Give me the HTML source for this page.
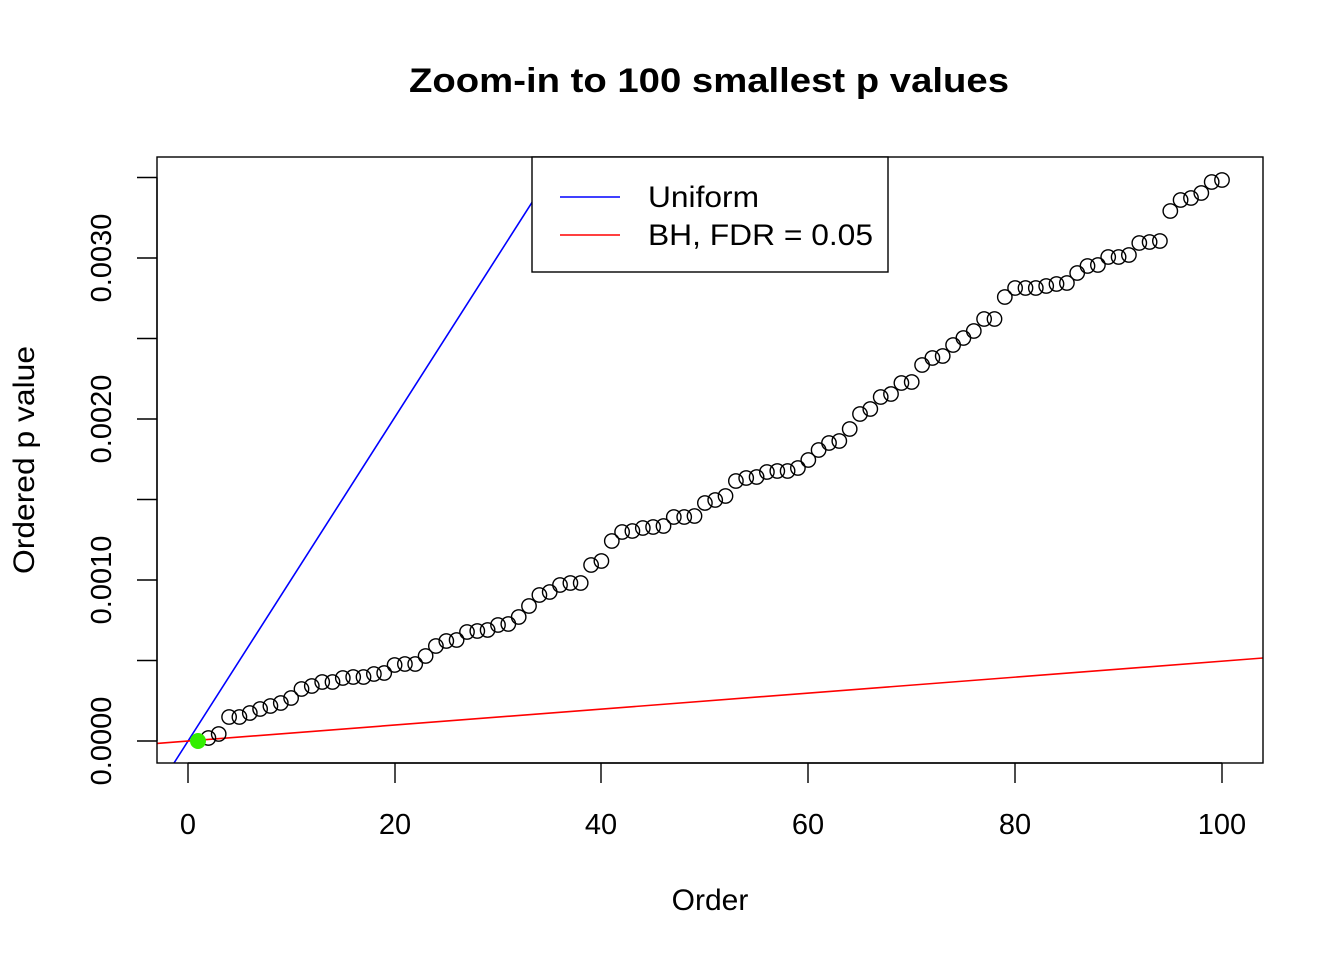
<!DOCTYPE html>
<html><head><meta charset="utf-8"><style>html,body{margin:0;padding:0;background:#fff}svg{display:block}</style></head>
<body>
<svg width="1344" height="960" xmlns="http://www.w3.org/2000/svg" font-family="Liberation Sans, Arial, sans-serif">
<rect width="1344" height="960" fill="#fff"/>
<defs><clipPath id="c"><rect x="157" y="157" width="1106" height="606"/></clipPath></defs>
<g clip-path="url(#c)">
<line x1="174" y1="763" x2="561" y2="157" stroke="#0000ff" stroke-width="1.6"/>
<line x1="157" y1="743.4" x2="1263" y2="658" stroke="#ff0000" stroke-width="1.6"/>
</g>
<g fill="none" stroke="#000" stroke-width="1.4">
<circle cx="208.4" cy="738" r="7.2"/><circle cx="218.7" cy="734" r="7.2"/><circle cx="229.1" cy="717" r="7.2"/><circle cx="239.4" cy="717" r="7.2"/><circle cx="249.8" cy="713" r="7.2"/><circle cx="260.1" cy="709" r="7.2"/><circle cx="270.4" cy="706" r="7.2"/><circle cx="280.8" cy="703" r="7.2"/><circle cx="291.1" cy="698" r="7.2"/><circle cx="301.5" cy="689" r="7.2"/>
<circle cx="311.8" cy="686" r="7.2"/><circle cx="322.2" cy="682" r="7.2"/><circle cx="332.5" cy="682" r="7.2"/><circle cx="342.8" cy="678" r="7.2"/><circle cx="353.2" cy="677" r="7.2"/><circle cx="363.5" cy="677" r="7.2"/><circle cx="373.9" cy="674" r="7.2"/><circle cx="384.2" cy="673" r="7.2"/><circle cx="394.6" cy="665" r="7.2"/><circle cx="404.9" cy="664" r="7.2"/>
<circle cx="415.2" cy="664" r="7.2"/><circle cx="425.6" cy="656" r="7.2"/><circle cx="435.9" cy="646" r="7.2"/><circle cx="446.3" cy="641" r="7.2"/><circle cx="456.6" cy="640" r="7.2"/><circle cx="467.0" cy="632" r="7.2"/><circle cx="477.3" cy="631" r="7.2"/><circle cx="487.6" cy="630" r="7.2"/><circle cx="498.0" cy="625" r="7.2"/><circle cx="508.3" cy="624" r="7.2"/>
<circle cx="518.7" cy="617" r="7.2"/><circle cx="529.0" cy="606" r="7.2"/><circle cx="539.4" cy="595" r="7.2"/><circle cx="549.7" cy="592" r="7.2"/><circle cx="560.0" cy="585" r="7.2"/><circle cx="570.4" cy="583" r="7.2"/><circle cx="580.7" cy="583" r="7.2"/><circle cx="591.1" cy="565" r="7.2"/><circle cx="601.4" cy="561" r="7.2"/><circle cx="611.8" cy="541" r="7.2"/>
<circle cx="622.1" cy="532" r="7.2"/><circle cx="632.4" cy="531" r="7.2"/><circle cx="642.8" cy="528" r="7.2"/><circle cx="653.1" cy="527" r="7.2"/><circle cx="663.5" cy="526" r="7.2"/><circle cx="673.8" cy="517" r="7.2"/><circle cx="684.2" cy="517" r="7.2"/><circle cx="694.5" cy="516" r="7.2"/><circle cx="704.9" cy="503" r="7.2"/><circle cx="715.2" cy="500" r="7.2"/>
<circle cx="725.5" cy="496" r="7.2"/><circle cx="735.9" cy="481" r="7.2"/><circle cx="746.2" cy="478" r="7.2"/><circle cx="756.6" cy="477" r="7.2"/><circle cx="766.9" cy="472" r="7.2"/><circle cx="777.3" cy="471" r="7.2"/><circle cx="787.6" cy="471" r="7.2"/><circle cx="797.9" cy="468" r="7.2"/><circle cx="808.3" cy="460" r="7.2"/><circle cx="818.6" cy="450" r="7.2"/>
<circle cx="829.0" cy="443" r="7.2"/><circle cx="839.3" cy="441" r="7.2"/><circle cx="849.7" cy="429" r="7.2"/><circle cx="860.0" cy="414" r="7.2"/><circle cx="870.3" cy="409" r="7.2"/><circle cx="880.7" cy="397" r="7.2"/><circle cx="891.0" cy="394" r="7.2"/><circle cx="901.4" cy="383" r="7.2"/><circle cx="911.7" cy="382" r="7.2"/><circle cx="922.1" cy="365" r="7.2"/>
<circle cx="932.4" cy="358" r="7.2"/><circle cx="942.7" cy="356" r="7.2"/><circle cx="953.1" cy="345" r="7.2"/><circle cx="963.4" cy="338" r="7.2"/><circle cx="973.8" cy="331" r="7.2"/><circle cx="984.1" cy="319" r="7.2"/><circle cx="994.5" cy="319" r="7.2"/><circle cx="1004.8" cy="297" r="7.2"/><circle cx="1015.1" cy="288" r="7.2"/><circle cx="1025.5" cy="288" r="7.2"/>
<circle cx="1035.8" cy="288" r="7.2"/><circle cx="1046.2" cy="286" r="7.2"/><circle cx="1056.5" cy="284" r="7.2"/><circle cx="1066.9" cy="283" r="7.2"/><circle cx="1077.2" cy="273" r="7.2"/><circle cx="1087.5" cy="266" r="7.2"/><circle cx="1097.9" cy="265" r="7.2"/><circle cx="1108.2" cy="257" r="7.2"/><circle cx="1118.6" cy="257" r="7.2"/><circle cx="1128.9" cy="255" r="7.2"/>
<circle cx="1139.3" cy="243" r="7.2"/><circle cx="1149.6" cy="242" r="7.2"/><circle cx="1159.9" cy="241" r="7.2"/><circle cx="1170.3" cy="211" r="7.2"/><circle cx="1180.6" cy="200" r="7.2"/><circle cx="1191.0" cy="198" r="7.2"/><circle cx="1201.3" cy="193" r="7.2"/><circle cx="1211.7" cy="182" r="7.2"/><circle cx="1222.0" cy="180" r="7.2"/>
</g>
<circle cx="198" cy="741" r="7.5" fill="#33ee00" stroke="#33ee00"/>
<rect x="157" y="157" width="1106" height="606" fill="none" stroke="#000" stroke-width="1.4"/>
<rect x="532" y="157" width="356" height="115" fill="#fff" stroke="#000" stroke-width="1.4"/>
<line x1="560" y1="197" x2="620" y2="197" stroke="#0000ff" stroke-width="1.6"/>
<line x1="560" y1="235" x2="620" y2="235" stroke="#ff0000" stroke-width="1.6"/>
<text x="648" y="207" font-size="30" textLength="111" lengthAdjust="spacingAndGlyphs">Uniform</text>
<text x="648" y="245" font-size="30" textLength="225" lengthAdjust="spacingAndGlyphs">BH, FDR = 0.05</text>
<text x="709" y="92" font-size="34" font-weight="bold" text-anchor="middle" textLength="600" lengthAdjust="spacingAndGlyphs">Zoom-in to 100 smallest p values</text>
<text x="710" y="910" font-size="30" text-anchor="middle">Order</text>
<text transform="translate(34,460) rotate(-90)" font-size="30" text-anchor="middle" textLength="228" lengthAdjust="spacingAndGlyphs">Ordered p value</text>
<g stroke="#000" stroke-width="1.4">
<line x1="188" y1="763" x2="1222" y2="763"/>
<line x1="188" y1="763" x2="188" y2="783"/><line x1="395" y1="763" x2="395" y2="783"/><line x1="601" y1="763" x2="601" y2="783"/><line x1="808" y1="763" x2="808" y2="783"/><line x1="1015" y1="763" x2="1015" y2="783"/><line x1="1222" y1="763" x2="1222" y2="783"/>
<line x1="157" y1="741" x2="157" y2="177.5"/>
<line x1="137" y1="741" x2="157" y2="741"/><line x1="137" y1="660.5" x2="157" y2="660.5"/><line x1="137" y1="580" x2="157" y2="580"/><line x1="137" y1="499.5" x2="157" y2="499.5"/><line x1="137" y1="419" x2="157" y2="419"/><line x1="137" y1="338.5" x2="157" y2="338.5"/><line x1="137" y1="258" x2="157" y2="258"/><line x1="137" y1="177.5" x2="157" y2="177.5"/>
</g>
<g font-size="29" text-anchor="middle">
<text x="188" y="834">0</text><text x="395" y="834">20</text><text x="601" y="834">40</text><text x="808" y="834">60</text><text x="1015" y="834">80</text><text x="1222" y="834">100</text>
<text transform="translate(111,741) rotate(-90)">0.0000</text>
<text transform="translate(111,580) rotate(-90)">0.0010</text>
<text transform="translate(111,419) rotate(-90)">0.0020</text>
<text transform="translate(111,258) rotate(-90)">0.0030</text>
</g>
</svg>
</body></html>
